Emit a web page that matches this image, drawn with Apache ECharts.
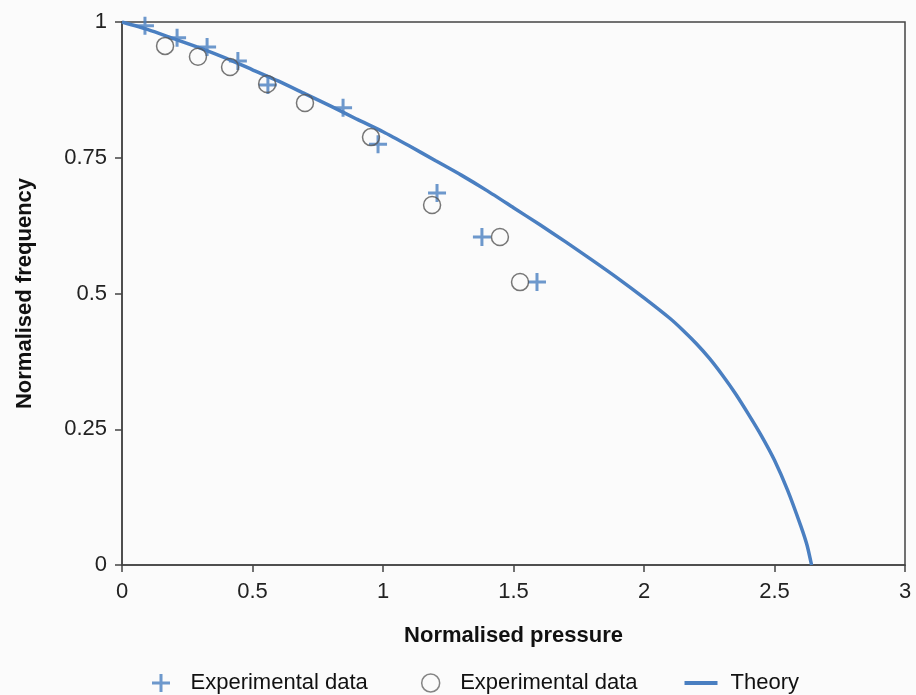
<!DOCTYPE html>
<html>
<head>
<meta charset="utf-8">
<script src="https://cdn.jsdelivr.net/npm/echarts@6/dist/echarts.min.js"></script>
<style>
  html, body { margin: 0; padding: 0; background: #fbfbfb; }
  #chart { width: 916px; height: 695px; }
</style>
</head>
<body>
<div id="chart"></div>
<script>
// experimental data, set 1 (crosses)
var crossX = [0.088, 0.211, 0.326, 0.444, 0.559, 0.847, 0.981, 1.207, 1.379, 1.590];
var crossY = [0.993, 0.971, 0.954, 0.928, 0.884, 0.842, 0.775, 0.685, 0.604, 0.521];
// experimental data, set 2 (circles)
var circleX = [0.165, 0.291, 0.414, 0.556, 0.701, 0.954, 1.188, 1.448, 1.525];
var circleY = [0.956, 0.936, 0.917, 0.886, 0.851, 0.788, 0.663, 0.604, 0.521];
// theory curve
var theoryX = [0, 0.1, 0.2, 0.3, 0.4, 0.5, 0.6, 0.7, 0.8, 0.9, 1.0, 1.1, 1.2, 1.3, 1.4, 1.5,
               1.6, 1.7, 1.8, 1.9, 2.0, 2.1, 2.15, 2.2, 2.25, 2.3, 2.35, 2.4, 2.45, 2.5, 2.55, 2.6, 2.625, 2.642];
var theoryY = [1.0, 0.986, 0.969, 0.952, 0.933, 0.912, 0.891, 0.868, 0.845, 0.821, 0.798, 0.772, 0.745, 0.718, 0.689, 0.658,
               0.627, 0.595, 0.562, 0.528, 0.492, 0.454, 0.432, 0.408, 0.381, 0.350, 0.316, 0.278, 0.238, 0.193, 0.138, 0.073, 0.036, 0];
var xTicks = ['0', '0.5', '1', '1.5', '2', '2.5', '3'];

function pairs(xs, ys) {
    var out = [];
    for (var i = 0; i < xs.length; i++) {
        out.push([xs[i], ys[i]]);
    }
    return out;
}

var blue = '#4a7fc1';
var plusPath = 'path://M7.5,0H10.5V7.5H18V10.5H10.5V18H7.5V10.5H0V7.5H7.5Z';
var font = 'Liberation Sans, Arial, sans-serif';

var chart = echarts.init(document.getElementById('chart'));
var option = {
    backgroundColor: '#fbfbfb',
    animation: false,
    grid: {
        left: 122,
        right: 11,
        top: 22,
        bottom: 130,
        show: true,
        borderColor: '#444',
        borderWidth: 1.5,
        backgroundColor: 'transparent'
    },
    legend: {
        left: 147,
        top: 667,
        itemGap: 47,
        itemWidth: 33,
        itemHeight: 18,
        textStyle: { fontFamily: font, fontSize: 22, color: '#111', padding: [0, 0, 0, 8] },
        data: [
            { name: 'Experimental data ', icon: plusPath, itemStyle: { color: blue } },
            { name: 'Experimental data', icon: 'circle', itemStyle: { color: 'transparent', borderColor: '#666', borderWidth: 1.5 } },
            { name: 'Theory', icon: 'path://M0,0H33V4H0Z', itemStyle: { color: blue } }
        ]
    },
    xAxis: {
        type: 'value',
        min: 0,
        max: 3,
        interval: 0.5,
        name: 'Normalised pressure',
        nameLocation: 'middle',
        nameGap: 60,
        nameTextStyle: { fontFamily: font, fontSize: 22, fontWeight: 'bold', color: '#111' },
        axisLine: { lineStyle: { color: '#444', width: 1.5 } },
        axisTick: { show: true, length: 7, lineStyle: { color: '#444', width: 1.5 } },
        splitLine: { show: false },
        axisLabel: {
            margin: 16,
            fontFamily: font,
            fontSize: 22,
            color: '#222',
            formatter: function (v) { return xTicks[Math.round(v * 2)]; }
        }
    },
    yAxis: {
        type: 'value',
        min: 0,
        max: 1,
        interval: 0.25,
        name: 'Normalised frequency',
        nameLocation: 'middle',
        nameGap: 86,
        nameTextStyle: { fontFamily: font, fontSize: 22, fontWeight: 'bold', color: '#111' },
        axisLine: { show: true, lineStyle: { color: '#444', width: 1.5 } },
        axisTick: { show: true, length: 7, lineStyle: { color: '#444', width: 1.5 } },
        splitLine: { show: false },
        axisLabel: { margin: 15, fontFamily: font, fontSize: 22, color: '#222' }
    },
    series: [{
        name: 'Theory',
        type: 'line',
        smooth: 0.2,
        symbol: 'none',
        lineStyle: { color: blue, width: 3.5 },
        data: pairs(theoryX, theoryY),
        z: 2
    }, {
        name: 'Experimental data ',
        type: 'scatter',
        symbol: plusPath,
        symbolSize: 18,
        itemStyle: { color: blue },
        data: pairs(crossX, crossY),
        z: 3
    }, {
        name: 'Experimental data',
        type: 'scatter',
        symbol: 'circle',
        symbolSize: 17,
        itemStyle: { color: 'transparent', borderColor: '#555', borderWidth: 1.5 },
        data: pairs(circleX, circleY),
        z: 3
    }]
};
chart.setOption(option);
</script>
</body>
</html>
